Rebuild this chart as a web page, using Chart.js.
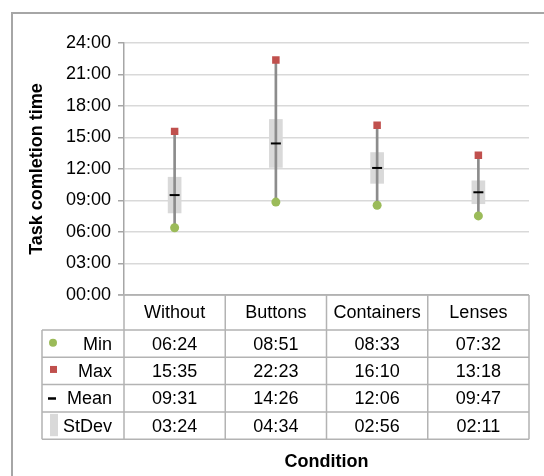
<!DOCTYPE html>
<html>
<head>
<meta charset="utf-8">
<script src="https://cdn.jsdelivr.net/npm/chart.js@4.4.1/dist/chart.umd.min.js"></script>
<style>
  body { margin: 0; background: #fff; }
</style>
</head>
<body>
<canvas id="taskChart" width="544" height="476"></canvas>
<script>
// dati (tempi in mm:ss, convertiti in secondi)
const conditions = ['Without', 'Buttons', 'Containers', 'Lenses'];
const minTimes = ['06:24', '08:51', '08:33', '07:32'];
const maxTimes = ['15:35', '22:23', '16:10', '13:18'];
const meanTimes = ['09:31', '14:26', '12:06', '09:47'];
const stdevTimes = ['03:24', '04:34', '02:56', '02:11'];

// mm:ss -> secondi
const toSec = t => { const p = t.split(':'); return (+p[0]) * 60 + (+p[1]); };
const fmt = s => {
  const m = Math.floor(s / 60), r = Math.round(s % 60);
  return String(m).padStart(2, '0') + ':' + String(r).padStart(2, '0');
};

const minSec = minTimes.map(toSec);
const maxSec = maxTimes.map(toSec);
const meanSec = meanTimes.map(toSec);
const sdSec = stdevTimes.map(toSec);

const FONT = '"Liberation Sans", Arial, sans-serif';
const GREEN = '#9bbb59';
const RED = '#c0504d';
const LINE_GRAY = '#b3b3b3';

// plugin x disegnare la tabella dati sotto il grafico + cornice esterna
const dataTable = {
  id: 'dataTable',
  beforeDraw(chart) {
    const ctx = chart.ctx;
    ctx.save();
    ctx.strokeStyle = '#a6a6a6';
    ctx.lineWidth = 2;
    ctx.beginPath();
    ctx.moveTo(12, 480);
    ctx.lineTo(12, 13);
    ctx.lineTo(548, 13);
    ctx.stroke();
    ctx.restore();
  },
  afterDraw(chart) {
    const ctx = chart.ctx;
    const x = chart.scales.x;
    const area = chart.chartArea;
    const colW = (area.right - area.left) / conditions.length;
    const top = area.bottom;
    const headH = 35;
    const rowH = 27.3;
    const tableLeft = 42;
    const rows = [
      { name: 'Min', vals: minTimes },
      { name: 'Max', vals: maxTimes },
      { name: 'Mean', vals: meanTimes },
      { name: 'StDev', vals: stdevTimes }
    ];
    const bottom = top + headH + rowH * rows.length;

    ctx.save();
    ctx.strokeStyle = LINE_GRAY;
    ctx.lineWidth = 1.5;
    ctx.beginPath();
    // linea asse x (00:00) fino al tick
    ctx.moveTo(area.left - 6, top);
    ctx.lineTo(area.right, top);
    // righe orizzontali
    for (let i = 0; i <= rows.length; i++) {
      const y = top + headH + rowH * i;
      ctx.moveTo(tableLeft, y);
      ctx.lineTo(area.right, y);
    }
    // colonne
    for (let i = 0; i <= conditions.length; i++) {
      const cx = area.left + colW * i;
      ctx.moveTo(cx, top);
      ctx.lineTo(cx, bottom);
    }
    ctx.moveTo(tableLeft, top + headH);
    ctx.lineTo(tableLeft, bottom);
    ctx.stroke();

    ctx.fillStyle = '#000';
    ctx.font = '18px ' + FONT;
    ctx.textBaseline = 'middle';
    ctx.textAlign = 'center';
    conditions.forEach((c, i) => {
      ctx.fillText(c, x.getPixelForValue(i), top + headH / 2 + 1);
    });
    rows.forEach((r, j) => {
      const cy = top + headH + rowH * j + rowH / 2 + 1;
      ctx.textAlign = 'center';
      r.vals.forEach((v, i) => ctx.fillText(v, x.getPixelForValue(i), cy));
      ctx.textAlign = 'right';
      ctx.fillText(r.name, 112, cy);
    });

    // simboli della legenda nella tabella
    const rc = j => top + headH + rowH * j + rowH / 2;
    ctx.fillStyle = GREEN;
    ctx.beginPath();
    ctx.arc(53, rc(0) - 1, 4, 0, Math.PI * 2);
    ctx.fill();
    ctx.fillStyle = RED;
    ctx.fillRect(50, rc(1) - 5, 7, 7);
    ctx.fillStyle = '#000';
    ctx.fillRect(48, rc(2) - 1, 8, 2.5);
    ctx.fillStyle = '#d9d9d9';
    ctx.fillRect(50, top + headH + rowH * 3 + 2, 8, rowH - 5);

    // titolo asse x
    ctx.fillStyle = '#000';
    ctx.font = 'bold 18px ' + FONT;
    ctx.textAlign = 'center';
    ctx.fillText('Condition', (area.left + area.right) / 2, 462);
    ctx.restore();
  }
};

const ctx = document.getElementById('taskChart').getContext('2d');

const myChart = new Chart(ctx, {
  data: {
    labels: conditions,
    datasets: [
      {
        type: 'line', label: 'Max', data: maxSec, showLine: false, order: 1,
        pointStyle: 'rect', pointRadius: 5.3, backgroundColor: RED, borderWidth: 0
      },
      {
        type: 'line', label: 'Min', data: minSec, showLine: false, order: 2,
        pointStyle: 'circle', pointRadius: 4.5, backgroundColor: GREEN, borderWidth: 0
      },
      {
        type: 'line', label: 'Mean', data: meanSec, showLine: false, order: 3,
        pointStyle: 'line', pointRadius: 5, borderColor: '#000', borderWidth: 2
      },
      {
        type: 'bar', label: 'Range', order: 4, grouped: false,
        data: minSec.map((v, i) => [v, maxSec[i]]),
        backgroundColor: '#8c8c8c', barThickness: 2
      },
      {
        type: 'bar', label: 'StDev', order: 5, grouped: false,
        data: meanSec.map((m, i) => [m - sdSec[i] / 2, m + sdSec[i] / 2]),
        backgroundColor: '#d9d9d9', barThickness: 13
      }
    ]
  },
  options: {
    responsive: false,
    animation: false,
    events: [],
    layout: { padding: { left: 0, right: 15, top: 43, bottom: 181 } },
    plugins: { legend: { display: false }, tooltip: { enabled: false } },
    scales: {
      x: { display: false, offset: true },
      y: {
        min: 0, max: 1440,
        afterFit(scale) { scale.width = 124; },
        ticks: {
          stepSize: 180, padding: 7, color: '#000',
          font: { family: FONT, size: 18 },
          callback: v => fmt(v)
        },
        grid: {
          color: c => (c.tick && c.tick.value === 0) ? LINE_GRAY : '#d9d9d9',
          lineWidth: 1.5, tickLength: 6, tickColor: '#a6a6a6'
        },
        border: { color: '#a6a6a6', width: 1.5 },
        title: {
          display: true, text: 'Task comletion time', color: '#000',
          font: { family: FONT, size: 18, weight: 'bold' },
          padding: { top: 26, bottom: 0 }
        }
      }
    }
  },
  plugins: [dataTable]
});
</script>
</body>
</html>
